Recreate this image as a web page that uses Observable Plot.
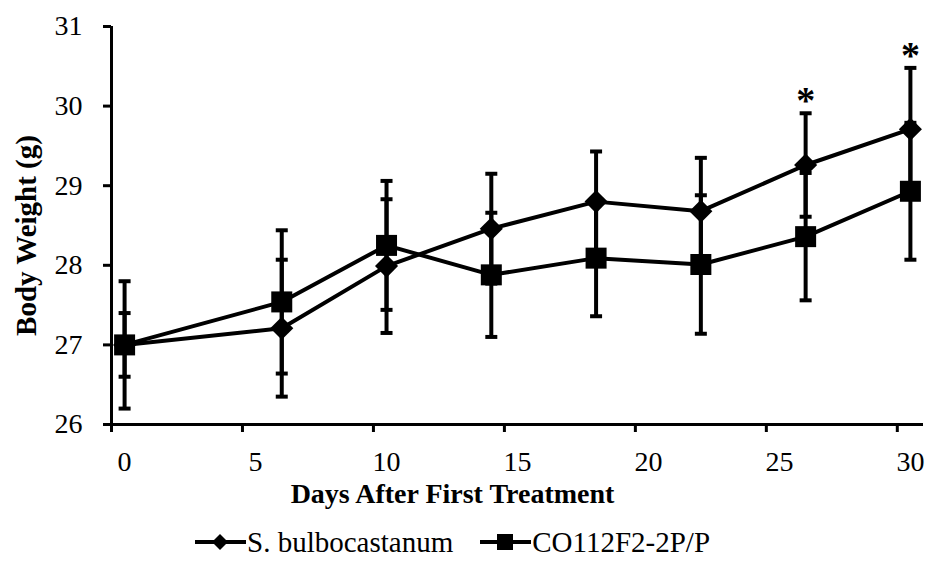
<!DOCTYPE html>
<html>
<head>
<meta charset="utf-8">
<script src="https://cdn.jsdelivr.net/npm/d3@7"></script>
<script src="https://cdn.jsdelivr.net/npm/@observablehq/plot@0.6"></script>
<style>
  html, body { margin: 0; padding: 0; background: #fff; }
  body { width: 928px; height: 561px; overflow: hidden; font-family: "Liberation Serif", "DejaVu Serif", serif; font-weight: 400; }
  #legend { height: 46px; box-sizing: border-box; padding-top: 8px; padding-left: 195px; display: flex; justify-content: flex-start; align-items: center; gap: 27px; font-size: 29px; color: #000; }
  .item { display: flex; align-items: center; }
  .item svg { display: block; margin-right: 1px; }
</style>
</head>
<body>
<div id="chart"></div>
<div id="legend"></div>
<script>
const days = [0, 6, 10, 14, 18, 22, 26, 30];
const sbMean = [27.0, 27.21, 27.99, 28.46, 28.8, 28.68, 29.26, 29.71];
const sbErr = [0.4, 0.86, 0.84, 0.69, 0.63, 0.67, 0.65, 0.77];
const coMean = [27.0, 27.54, 28.25, 27.88, 28.09, 28.01, 28.36, 28.93];
const coErr = [0.8, 0.9, 0.81, 0.78, 0.73, 0.87, 0.8, 0.86];
const seriesNames = ["S. bulbocastanum", "CO112F2-2P/P"];
const yTicks = [26, 27, 28, 29, 30, 31];
const xTicks = [0, 5, 10, 15, 20, 25, 30];
const sigDays = [26, 30];
const xLabel = "Days After First Treatment";
const yLabel = "Body Weight (g)";

const rows = [];
days.forEach((d, i) => {
  rows.push({series: seriesNames[0], day: d, mean: sbMean[i], lo: sbMean[i] - sbErr[i], hi: sbMean[i] + sbErr[i]});
  rows.push({series: seriesNames[1], day: d, mean: coMean[i], lo: coMean[i] - coErr[i], hi: coMean[i] + coErr[i]});
});
const sbRows = rows.filter(r => r.series === seriesNames[0]);
const coRows = rows.filter(r => r.series === seriesNames[1]);
const sigRows = sbRows.filter(r => sigDays.includes(r.day));

const capSymbol = {
  draw(ctx) { ctx.moveTo(-6, 0); ctx.lineTo(6, 0); }
};

const font = "'Liberation Serif', 'DejaVu Serif', serif";

const chart = Plot.plot({
  width: 928,
  height: 515,
  marginLeft: 111,
  marginRight: 5,
  marginTop: 26,
  marginBottom: 91,
  style: {fontFamily: font, fontSize: "28px", fontWeight: 400, color: "#000", background: "#fff"},
  x: {domain: [-0.5, 30.5]},
  y: {domain: [26, 31]},
  marks: [
    Plot.axisY(yTicks, {tickSize: 8, tickPadding: 21, strokeWidth: 3, fontSize: 28, fontFamily: font, tickFormat: d3.format("d"), label: null}),
    Plot.axisX(xTicks, {tickSize: 0, tickPadding: 27, fontSize: 28, fontFamily: font, tickFormat: d3.format("d"), label: null}),
    Plot.axisX(xTicks.map(v => v - 0.5), {tickSize: 8, strokeWidth: 3, tickFormat: () => "", label: null}),
    Plot.ruleX([-0.5], {stroke: "#000", strokeWidth: 3}),
    Plot.ruleY([26], {stroke: "#000", strokeWidth: 3}),
    Plot.ruleX(rows, {x: "day", y1: "lo", y2: "hi", stroke: "#000", strokeWidth: 4}),
    Plot.dot(rows, {x: "day", y: "hi", symbol: capSymbol, r: 6, fill: "none", stroke: "#000", strokeWidth: 4}),
    Plot.dot(rows, {x: "day", y: "lo", symbol: capSymbol, r: 6, fill: "none", stroke: "#000", strokeWidth: 4}),
    Plot.line(rows, {x: "day", y: "mean", z: "series", stroke: "#000", strokeWidth: 4}),
    Plot.dot(sbRows, {x: "day", y: "mean", symbol: "diamond2", r: 10.4, fill: "#000", stroke: "none"}),
    Plot.dot(coRows, {x: "day", y: "mean", symbol: "square", r: 11.85, fill: "#000", stroke: "none"}),
    Plot.text(sigRows, {x: "day", y: "hi", text: () => "*", fontSize: 38, fontWeight: "bold", fontFamily: font, dy: -12, fill: "#000"}),
    Plot.text([xLabel], {frameAnchor: "bottom", text: d => d, lineAnchor: "middle", textAnchor: "middle", dx: -65, dy: 70, fontSize: 28, fontWeight: "bold", fontFamily: font, fill: "#000"}),
    Plot.text([yLabel], {frameAnchor: "left", text: d => d, rotate: -90, textAnchor: "middle", lineAnchor: "middle", dx: -85, dy: 10, fontSize: 29, fontWeight: "bold", fontFamily: font, fill: "#000"})
  ]
});
document.getElementById("chart").appendChild(chart);

// legend
const legend = document.getElementById("legend");
const legendSymbols = ["diamond", "square"];
seriesNames.forEach((name, i) => {
  const item = document.createElement("div");
  item.className = "item";
  const sym = legendSymbols[i] === "diamond"
    ? '<polygon points="25,4 33,12 25,20 17,12" fill="#000"/>'
    : '<rect x="17" y="4" width="16" height="16" fill="#000"/>';
  item.innerHTML = '<svg width="51" height="24" viewBox="0 0 51 24"><line x1="0" y1="12" x2="51" y2="12" stroke="#000" stroke-width="4"/>' + sym + '</svg><span>' + name + '</span>';
  legend.appendChild(item);
});
</script>
</body>
</html>
